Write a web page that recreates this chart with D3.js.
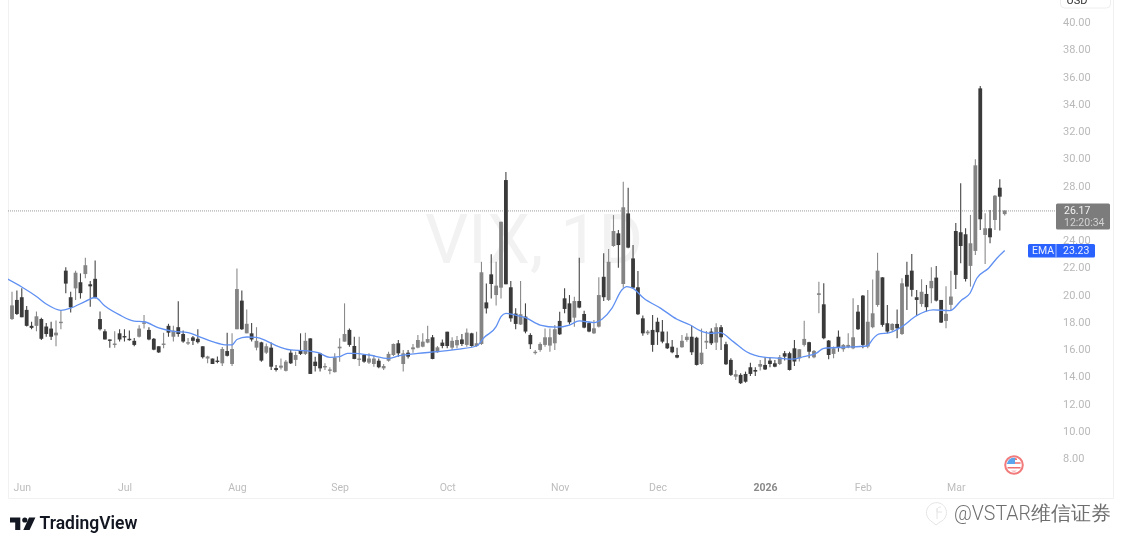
<!DOCTYPE html>
<html><head><meta charset="utf-8">
<script src="https://cdn.jsdelivr.net/npm/d3@7/dist/d3.min.js"></script>
<style>html,body{margin:0;padding:0;background:#fff;overflow:hidden}svg{display:block;filter:blur(0.55px)}text{font-family:Roboto,"Noto Sans",sans-serif}</style>
</head><body><svg id="c" width="1123" height="548"></svg>
<script>
const opens=[18.2,19.6,19.8,18.87,17.7,17.7,18.2,17.65,17.5,17.0,
17.9,21.75,19.8,20.45,20.9,21.5,20.75,21.15,18.2,17.3,
16.7,16.3,17.15,16.95,16.75,16.6,16.9,17.85,17.4,16.75,
16.2,16.35,17.7,16.9,17.6,17.1,16.4,16.85,16.75,16.2,
15.3,15.3,15.15,14.95,15.85,14.9,17.45,19.55,17.15,17.15,
16.1,16.49,15.73,16.1,14.6,14.63,14.4,15.73,15.2,15.93,
15.64,16.78,15.07,15.68,14.66,14.41,14.3,16.05,16.54,17.4,
16.22,15.2,15.56,15.0,14.9,15.14,14.58,15.14,15.56,16.42,
14.9,15.73,15.98,16.1,16.17,16.47,16.86,15.76,16.47,17.27,
16.1,16.27,16.7,16.3,17.15,16.22,16.37,19.42,21.48,19.96,
20.5,28.4,20.53,18.6,17.8,18.38,17.03,15.7,15.93,16.3,
16.25,16.42,18.06,19.72,19.35,18.3,19.52,18.57,17.9,17.15,
17.64,21.3,19.6,23.56,24.49,20.77,25.95,22.65,20.53,18.25,
17.15,17.4,18,17.28,16.42,16.17,15.56,16.13,16.66,16.9,
16.83,14.9,16.47,17.28,16.47,17.6,16.35,15.2,13.97,14.1,
14.17,14.66,14.46,14.7,14.83,15.15,14.95,14.9,15.69,15.69,
16.05,15.32,16.3,16.5,15.39,19.97,19.28,16.62,15.64,16.9,
15.98,16.13,16.05,18.74,19.92,16.18,17.6,19.23,21.26,17.89,
17.4,17.84,17.1,21.44,21.75,19.8,19.3,20.04,20.46,21.24,
19.6,18.06,19.24,24.66,24.57,24.42,22.1,23.2,35.13,24.37,
24.86,25.47,27.84,25.9];
const closes=[19.2,18.57,18.33,17.7,17.55,18.4,16.75,17.1,16.9,17.2,
18,20.8,19.05,21.6,20.1,22.15,20.6,19.8,17.45,16.7,
16.6,16.4,16.7,16.85,16.65,16.3,17.5,17.95,16.7,15.95,
15.75,16.4,17.2,17.35,17.1,16.55,16.5,16.6,16.5,15.4,
15.45,14.9,15.05,16,15.5,16,20.4,17.45,17.85,16.7,
16.6,15.15,16.2,14.7,14.46,14.78,15.07,14.95,15.56,15.64,
16.6,14.17,14.75,14.58,14.75,14.5,15.37,16.17,17.1,16.3,
15.27,15.3,15.07,15.3,15.3,14.66,14.75,15.64,16.37,15.68,
15.68,15.44,16.12,16.66,16.54,16.73,15.27,16.12,16.22,16.22,
16.6,16.66,16.37,17.2,16.22,16.42,21.63,18.98,20.77,20.65,
25.34,20.75,18.25,17.84,18.55,17.28,16.35,15.8,16.37,16.86,
16.86,17.45,17.08,18.94,17.96,19.52,19.04,17.57,17.28,17.52,
19.96,19.8,22.4,24.66,23.63,26.4,23.44,20.5,18.55,17.15,
17.28,16.3,17.23,16.54,16.05,15.76,15.37,16.6,16.9,15.76,
14.83,15.73,16.6,16.42,17.6,16.86,14.88,14.1,14.15,13.49,
13.6,14.17,14.34,14.9,14.5,14.9,14.7,15.39,15.44,14.46,
15.08,15.98,16.74,15.8,15.86,20.09,16.79,15.56,16.05,16.13,
16.3,16.3,16.86,17.45,16.3,18,18.62,21.75,17.77,17.28,
17.84,17.52,20.82,20.58,20.34,19.6,20.2,19.07,21,19.55,
17.94,18.58,19.85,21.44,23.56,21.14,23.76,29.48,25.52,24.86,
24.2,27.25,27.18,26.17];
const highs=[20.2,20.3,20.45,19.16,18,18.75,18.3,17.9,18,18.1,
18.85,22,20.2,21.75,21.55,22.7,21,22.5,18.75,17.45,
16.7,17.3,17.45,17.45,17.35,16.8,17.75,18.5,17.6,16.8,
16.2,17.2,17.85,17.7,19.5,17.35,16.8,16.95,17.45,16.2,
15.5,15.3,15.45,16.15,17.2,17.15,21.9,20.3,18.9,17.9,
17.6,16.54,16.4,16.47,14.83,15.3,15.2,15.93,15.8,17.15,
17.2,16.78,15.44,15.73,14.95,14.66,15.68,16.78,19.35,17.5,
16.9,16.9,15.64,15.68,15.56,15.3,14.9,15.8,16.4,16.66,
15.93,15.93,16.37,17.03,17.15,17.7,17.03,16.22,16.7,17.27,
16.86,16.96,17.1,17.5,17.2,17.27,22.4,20.8,22.95,22.4,
25.34,29,21,18.99,21,19.35,17.15,15.93,16.5,17.5,
17.5,17.76,18.74,20.45,19.96,19.84,22.7,18.8,18,18.13,
21.26,23.02,23.34,25.83,24.73,28.28,27.84,23.63,21.72,18.45,
17.4,18.5,18.3,18.13,17.28,16.66,16.1,17.03,17.15,17.7,
16.9,17.5,17.32,17.52,17.89,17.76,16.54,15.32,14.46,14.22,
14.34,15,14.66,15.2,15.39,15.39,15.2,15.56,15.86,15.8,
16.66,16,18.08,16.54,15.93,20.94,20.82,16.66,16.18,17.35,
16.37,17.15,19.72,19.23,19.97,20.33,21.11,23.07,21.26,19.23,
17.89,18.9,21.19,22.4,22.98,20.33,21.12,20.7,22,22.1,
19.6,20.6,21.75,25.25,28.16,24.86,25.84,29.92,35.3,25.96,
26.2,27.3,28.45,26.17];
const lows=[18.13,18.5,18.33,17.65,17.45,17.3,16.66,16.9,16.66,16.2,
17.45,20.1,18.67,19.6,19.7,21.2,19.1,19.7,17.35,16.7,
16.1,16.1,16.55,16.55,16.6,16.2,16.85,17.5,16.65,15.9,
15.7,16.05,16.9,16.55,16.9,16.45,16.3,16.3,16.4,15.3,
14.95,14.9,14.95,14.75,15.45,14.75,17.45,17.4,17.15,16.55,
15.9,15.07,15.64,14.46,14.34,14.5,14.34,14.9,14.75,15.56,
15.56,14.17,14.34,14.34,14.46,14.14,14.27,15.07,16.54,16.17,
15.24,14.75,15,14.9,14.7,14.58,14.46,15.07,15.49,15.44,
14.34,15.3,15.73,16.05,16.12,16.42,15.24,15.73,16.05,16.05,
15.93,16.05,16.22,16.17,16.17,16.17,16.3,18.6,19.7,19.2,
19.7,20.75,18,17.45,17.77,17.15,16,15.6,15.8,16.17,
15.8,15.93,17.03,18.62,17.8,17.64,18.99,17.52,17.23,17.1,
17.57,19.52,19.52,23.5,21.97,20.5,23.4,20.45,18.5,16.98,
17.03,15.8,16.3,16.42,16,15.68,15.32,16.1,16.54,15.56,
14.78,14.83,16,16.3,15.93,15.93,14.83,14.02,13.73,13.44,
13.53,14.02,14.02,14.42,14.46,14.66,14.66,14.83,15.15,14.42,
14.76,15.08,16.18,15.32,15.32,18.62,16.71,15.25,15.32,15.8,
15.8,16.05,15.98,17.4,16.05,16.05,17.52,19.11,17.64,17.15,
17.28,16.79,17.03,18.87,19.85,18.5,19.1,18.75,19.36,19.48,
17.9,17.52,18.87,20.4,22.3,20.95,20.58,22.9,24.74,22.24,
23.76,24.74,24.7,25.8];
const emaBars=[-1,2,5,7,10,12,15,17,19,22,25,27,30,33,36,38,41,44,45,46,48,50,52,54,57,60,62.6,65,67,68.6,70,73,77,79,83,87,91,95,96.6,99,100,101,102.8,105,108,111.4,114,116,119,120.7,122.7,124.7,125.7,127,129.2,132.6,136,138.7,140.7,142.8,144.8,147.5,150.2,153.7,157,159.5,161.9,164.5,166,170,174.8,176.2,177.2,179.5,182,184.9,188.4,191.8,194.2,195.9,197.3,199.7,201.4,203];
const emaValues=[21.15,20.55,19.85,19.3,18.84,19,19.5,19.78,19.15,18.5,18.05,18,17.55,17.3,17.2,16.95,16.54,16.3,16.3,16.7,16.88,16.85,16.6,16.25,15.93,15.88,15.73,15.39,15.44,15.68,15.68,15.56,15.3,15.49,15.68,15.8,15.98,16.22,16.86,17.64,18.37,18.62,18.5,18.3,17.76,17.6,17.76,18.06,17.94,18.2,19,20.33,20.58,20.45,19.72,19,18.18,17.76,17.35,17.15,17.2,16.54,15.8,15.4,15.32,15.25,15.44,15.7,16.05,16.13,16.22,16.8,17.1,17.2,17.64,18.43,18.87,18.82,19.6,20.09,21.19,21.93,22.66,23.23];
const monthBars=[2,23,46,67,89,112,132,154,174,193];
const monthLabels=["Jun","Jul","Aug","Sep","Oct","Nov","Dec","2026","Feb","Mar"];
const priceTicks=[8,10,12,14,16,18,20,22,24,28,30,32,34,36,38,40];
const lastPrice=26.17, lastEma=23.23;
const countdown="12:20:34";

const svg=d3.select("#c");
const x=d3.scaleLinear().domain([0,203]).range([12,1004.7]);
const y=d3.scaleLinear().domain([8,40]).range([458,22]);

svg.append("defs").append("clipPath").attr("id","pane").append("rect").attr("x",8).attr("y",0).attr("width",1105).attr("height",498);

svg.append("path").attr("d","M8.5 0V498.5H1113.5V0").attr("fill","none").attr("stroke","#f1f1f1");
svg.append("rect").attr("x",1060.5).attr("y",-12).attr("width",50).attr("height",20).attr("rx",4).attr("fill","#fff").attr("stroke","#eeeeee");
svg.append("text").attr("x",1077).attr("y",4).attr("text-anchor","middle").attr("font-size",11).attr("fill","#333").text("USD");

svg.append("text").attr("x",425).attr("y",263).attr("font-size",68).attr("fill","#f2f2f2").text("VIX, 1D");

svg.append("line").attr("x1",8).attr("x2",1056).attr("y1",y(lastPrice)+.5).attr("y2",y(lastPrice)+.5).attr("stroke","#9a9a9a").attr("stroke-width",1).attr("stroke-dasharray","1 1");

const idx=d3.range(opens.length);
const gc=svg.append("g").attr("clip-path","url(#pane)");
const col=i=>closes[i]>=opens[i]?"#848484":"#3a3a3a";
gc.selectAll("line.w").data(idx).join("line").attr("class","w")
 .attr("x1",x).attr("x2",x).attr("y1",i=>y(highs[i])).attr("y2",i=>y(lows[i]))
 .attr("stroke",i=>closes[i]>=opens[i]?"#8a8a8a":"#454545").attr("stroke-width",1.1);
gc.selectAll("rect.b").data(idx).join("rect").attr("class","b")
 .attr("x",i=>x(i)-1.9).attr("width",3.8)
 .attr("y",i=>y(Math.max(opens[i],closes[i])))
 .attr("height",i=>Math.max(1.4,Math.abs(y(opens[i])-y(closes[i]))))
 .attr("fill",col);
const line=d3.line().x(i=>x(emaBars[i])).y(i=>y(emaValues[i])).curve(d3.curveMonotoneX);
gc.append("path").attr("d",line(d3.range(emaBars.length))).attr("fill","none").attr("stroke","#5f90f2").attr("stroke-width",1.3);

const yAxis=d3.axisRight(y).tickValues(priceTicks).tickFormat(d3.format(".2f")).tickSize(0).tickPadding(0);
const ay=svg.append("g").attr("transform","translate(1063,0)").call(yAxis);
ay.select(".domain").remove();
ay.selectAll("text").attr("font-size",11).attr("fill","#b9b9b9").attr("font-family","Roboto");
const xAxis=d3.axisBottom(x).tickValues(monthBars).tickFormat((d,i)=>monthLabels[i]).tickSize(0).tickPadding(0);
const ax=svg.append("g").attr("transform","translate(0,484)").call(xAxis);
ax.select(".domain").remove();
ax.selectAll("text").attr("font-size",10.5).attr("font-family","Roboto").attr("fill",(d,i)=>monthLabels[i]==="2026"?"#8a8a8a":"#bdbdbd").attr("font-weight",(d,i)=>monthLabels[i]==="2026"?700:400);

svg.append("rect").attr("x",1056).attr("y",y(lastPrice)-7).attr("width",54).attr("height",26).attr("rx",1.5).attr("fill","#7c7c7c");
svg.append("text").attr("x",1064).attr("y",y(lastPrice)+3.5).attr("font-size",10.5).attr("fill","#f2f2f2").text(d3.format(".2f")(lastPrice));
svg.append("text").attr("x",1064).attr("y",y(lastPrice)+16).attr("font-size",10.5).attr("fill","#d2d2d2").text(countdown);
svg.append("rect").attr("x",1028).attr("y",y(lastEma)-6.5).attr("width",67).attr("height",13.5).attr("rx",1.5).attr("fill","#2962ff");
svg.append("line").attr("x1",1056).attr("x2",1056).attr("y1",y(lastEma)-6.5).attr("y2",y(lastEma)+7).attr("stroke","#a9c0ff");
svg.append("text").attr("x",1032).attr("y",y(lastEma)+4).attr("font-size",10.5).attr("fill","#e8eeff").text("EMA");
svg.append("text").attr("x",1063).attr("y",y(lastEma)+4).attr("font-size",10.5).attr("fill","#e8eeff").text(d3.format(".2f")(lastEma));

const fl=svg.append("g").attr("transform","translate(1014,465)");
fl.append("circle").attr("r",8.8).attr("fill","#fff").attr("stroke","#f27a7a").attr("stroke-width",2);
fl.append("path").attr("d","M-7.2 -1 A7.2 7.2 0 0 1 1 -7.2 V-1 Z").attr("fill","#5aa5ec");
fl.append("path").attr("d","M1 -7 A7 7 0 0 1 3 -6.3 V-5 H1 Z M1 -2.8 H6.6 V-1.2 H1Z M-6.6 2 H6.6 V3.6 H-6.4Z M-3 5.8 H3 A7 7 0 0 1 -3 5.8Z").attr("fill","#ee7070");

svg.append("path").attr("d","M10 517.5H20.3V530H15.2V522.6H10Z M29 517.5H35.4L29.6 530H23.3Z").attr("fill","#131722");
svg.append("circle").attr("cx",24.8).attr("cy",520).attr("r",2.6).attr("fill","#131722");
svg.append("text").attr("x",39.5).attr("y",529).attr("font-size",17.5).attr("font-weight",600).attr("font-family","Inter").attr("fill","#131722").text("TradingView");

const st=svg.append("g").attr("fill","none").attr("stroke","#e4e4e4").attr("stroke-width",1);
st.append("path").attr("d","M931 521A10 10 0 1 1 940 522L936 525 Z");
st.append("path").attr("d","M937 508V519M941 507C937 507 937 509 937 512H942");
svg.append("text").attr("x",954).attr("y",520).attr("font-size",19.5).attr("font-weight",300).attr("font-family","'Noto Sans CJK SC'").attr("fill","#6e6e6e").text("@VSTAR维信证券");
</script></body></html>
